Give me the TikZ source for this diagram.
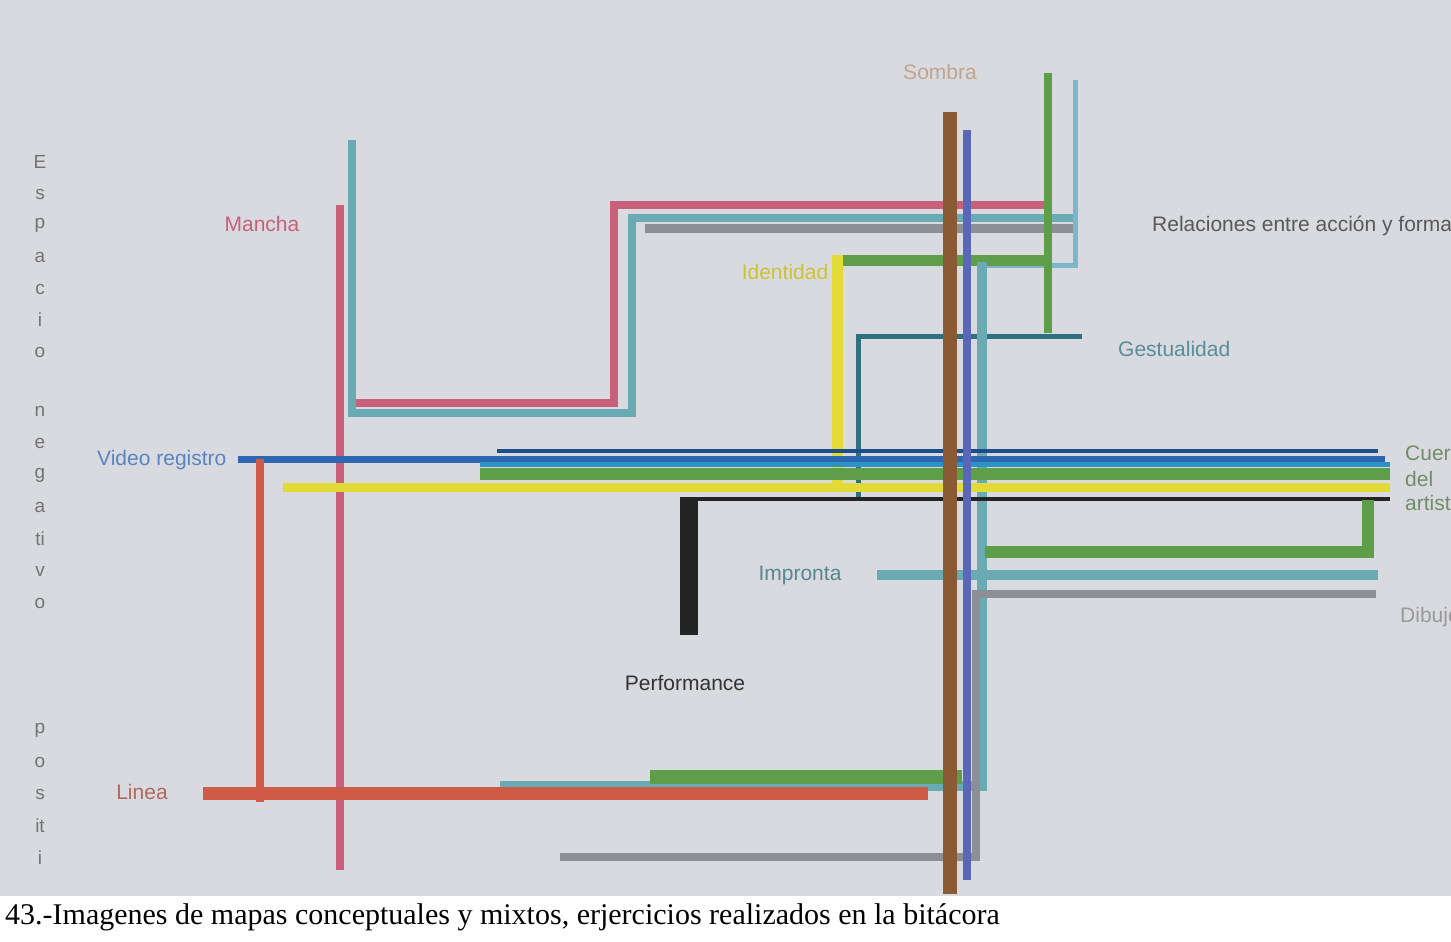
\documentclass[tikz,border=0pt]{standalone}
\usepackage{fontspec}
\setmainfont{Liberation Sans}
\newfontfamily\capfont{Liberation Serif}
\definecolor{paper}{HTML}{D9DADF}
\definecolor{cpink}{HTML}{C8607A}
\definecolor{cteal}{HTML}{6AAAB2}
\definecolor{cgray}{HTML}{8C9096}
\definecolor{cgreen}{HTML}{5E9E48}
\definecolor{clblue}{HTML}{7CB6CA}
\definecolor{cbrown}{HTML}{8A5A34}
\definecolor{cpurple}{HTML}{5A66B8}
\definecolor{cyellow}{HTML}{E2DA36}
\definecolor{cdteal}{HTML}{2E7080}
\definecolor{cblue}{HTML}{2F66B2}
\definecolor{ccyan}{HTML}{2A92C4}
\definecolor{cnavy}{HTML}{1E4E8A}
\definecolor{cblack}{HTML}{242424}
\definecolor{cred}{HTML}{CF5A48}
\begin{document}
\begin{tikzpicture}[x=1pt,y=-1pt,line cap=butt,line join=miter,
  lbl/.style={font=\fontsize{21}{24}\selectfont,inner sep=0pt},
  vl/.style={font=\fontsize{19}{22}\selectfont,inner sep=0pt,text=black!55},
  bar/.style={line width=#1}]
\useasboundingbox (0,0) rectangle (1451,942);
\clip (0,0) rectangle (1451,942);
\fill[paper] (0,0) rectangle (1451,896);
\fill[white] (0,896) rectangle (1451,942);

% Mancha (pink)
\draw[cpink,bar=8] (340,205) -- (340,870);
\draw[cpink,bar=8] (350,403) -| (614,205) -- (1046,205);
% teal path
\draw[cteal,bar=8] (352,140) |- (632,413) -- (632,218) -- (1075,218);
% gray top
\draw[cgray,bar=9] (645,228) -- (1075,228);
% light blue
\draw[clblue,bar=5] (1075,80) |- (985,265);
% green + yellow identidad
\draw[cgreen,bar=8] (1048,73) -- (1048,333);
\draw[cgreen,bar=11] (842,260) -- (1048,260);
\draw[cyellow,bar=11] (837,255) -- (837,492);
% dark teal gestualidad
\draw[cdteal,bar=5] (858,498) |- (1082,336);
% teal vertical right and bottom
\draw[cteal,bar=10] (982,262) |- (500,786);
% gray right chain
\draw[cgray,bar=8] (560,857) -| (976,594) -- (1376,594);
% horizontal bundle
\draw[cnavy,bar=4] (497,451) -- (1378,451);
\draw[cblue,bar=7] (238,459) -- (1385,459);
\draw[ccyan,bar=5] (480,464) -- (1390,464);
\draw[cgreen,bar=12] (480,474) -- (1390,474);
\draw[cyellow,bar=9] (283,487) -- (1390,487);
\draw[cblack,bar=4] (683,499) -- (1390,499);
\draw[cblack,bar=18] (689,497) -- (689,635);
% green bracket
\draw[cgreen,bar=12] (1368,500) |- (985,552);
% impronta teal
\draw[cteal,bar=10] (877,575) -- (1378,575);
% linea red
\draw[cred,bar=8] (260,459) -- (260,802);
\draw[cgreen,bar=14] (650,777) -- (962,777);
\draw[cred,bar=13] (203,793) -- (928,793);
% sombra brown + purple
\draw[cbrown,bar=14] (950,112) -- (950,894);
\draw[cpurple,bar=8] (967,130) -- (967,880);

% labels
\node[lbl,text=cbrown!55!white] (sombra) at (940,72) {Sombra};
\node[lbl,text=cpink] (mancha) at (262,224) {Mancha};
\node[lbl,text=cyellow!90!black] (ident) at (785,272) {Identidad};
\node[lbl,text=black!65,anchor=west] (rel) at (1152,226) {Relaciones entre acción y forma};
\node[lbl,text=cdteal!80!white,anchor=west] (gest) at (1118,349) {Gestualidad};
\node[lbl,text=cblue!80!white,anchor=west] (video) at (97,460) {Video registro};
\node[lbl,text=cgreen!40!gray,anchor=west] (cue) at (1405,455) {Cuerpo};
\node[lbl,text=cgreen!40!gray,anchor=west] (del) at (1405,479) {del};
\node[lbl,text=cgreen!40!gray,anchor=west] (art) at (1405,503) {artista};
\node[lbl,text=cteal!80!black] (impr) at (800,575) {Impronta};
\node[lbl,text=black!40,anchor=west] (dib) at (1400,617) {Dibujo};
\node[lbl,text=black!80] (perf) at (685,683) {Performance};
\node[lbl,text=cred!60!gray] (linea) at (142,792) {Linea};

% vertical text
\foreach \ch/\yy [count=\i] in {E/162,s/194,p/225,a/257,c/289,i/320,o/352,n/411,e/443,g/475,a/507,ti/539,v/571,o/603,//665,p/730,o/762,s/794,it/826,i/858}
  \node[vl] (v\i) at (40,\yy) {\ch};

\node[anchor=base west,inner sep=0pt,font=\capfont\fontsize{30}{33}\selectfont] (cap) at (5,924) {43.-Imagenes de mapas conceptuales y mixtos, erjercicios realizados en la bitácora};
\end{tikzpicture}
\end{document}
